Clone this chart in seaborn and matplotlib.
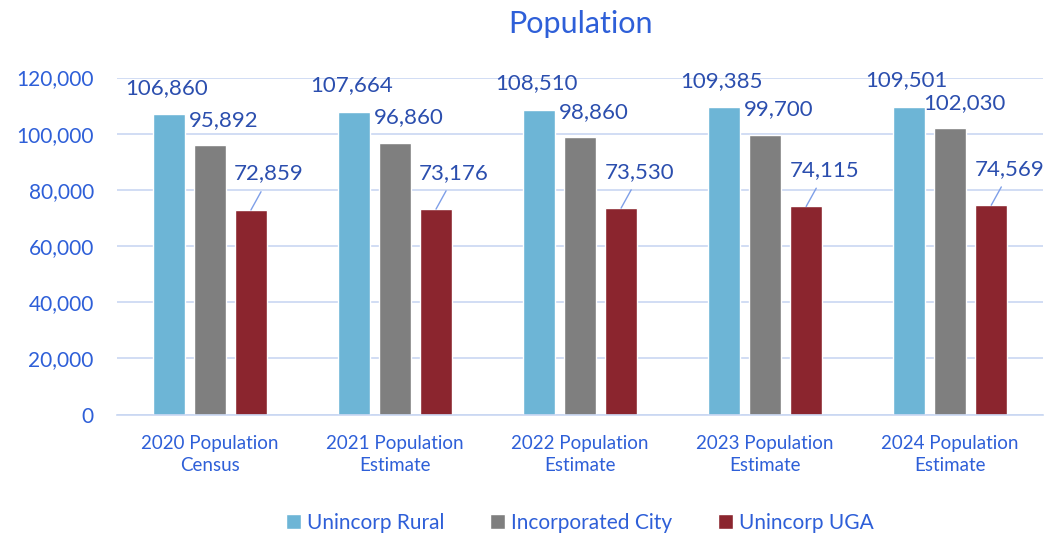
import pandas as pd
import matplotlib.pyplot as plt
import seaborn as sns
from matplotlib.ticker import FuncFormatter

categories = ["2020 Population\nCensus", "2021 Population\nEstimate", "2022 Population\nEstimate",
              "2023 Population\nEstimate", "2024 Population\nEstimate"]
series = ["Unincorp Rural", "Incorporated City", "Unincorp UGA"]
rural = [106860, 107664, 108510, 109385, 109501]
city = [95892, 96860, 98860, 99700, 102030]
uga = [72859, 73176, 73530, 74115, 74569]

colors = ["#6DB5D6", "#7F7F7F", "#8B252E"]
text_blue = "#2E5FD8"
label_blue = "#2B4EAE"
grid_blue = "#C9D7F2"

df = pd.DataFrame({
    "category": categories * 3,
    "series": [series[0]] * 5 + [series[1]] * 5 + [series[2]] * 5,
    "value": rural + city + uga,
})

sns.set_style("white")
plt.rcParams['font.family'] = ['Lato', 'DejaVu Sans']

fig, ax = plt.subplots(figsize=(10.48, 5.35), dpi=100)
fig.subplots_adjust(left=0.112, right=0.995, top=0.855, bottom=0.225)

sns.barplot(data=df, x="category", y="value", hue="series", palette=colors,
            width=0.665, gap=0.22, saturation=1, ax=ax, legend=True)

ax.set_ylim(0, 120000)
ax.set_yticks(range(0, 120001, 20000))
ax.yaxis.set_major_formatter(FuncFormatter(lambda v, p: f"{int(v):,}"))
ax.grid(axis="y", color=grid_blue, linewidth=1.2)
ax.set_axisbelow(True)
for s in ["top", "right", "left"]:
    ax.spines[s].set_visible(False)
ax.spines["bottom"].set_color(grid_blue)
ax.spines["bottom"].set_linewidth(1.2)
ax.tick_params(axis="y", colors=text_blue, labelsize=15, length=0, pad=17)
ax.tick_params(axis="x", colors=text_blue, labelsize=13.5, length=0, pad=15)
for t in ax.get_xticklabels():
    t.set_linespacing(1.35)
ax.set_xlabel("")
ax.set_ylabel("")
ax.set_title("Population", color=text_blue, fontsize=22, pad=32)

# data labels
for i, (cont, vals) in enumerate(zip(ax.containers, [rural, city, uga])):
    for bar, v in zip(cont, vals):
        x = bar.get_x() + bar.get_width() / 2
        y = bar.get_height()
        if i == 2:
            # UGA labels sit up and right, joined to the bar by a leader line
            ax.annotate(f"{v:,}", xy=(x, y), xytext=(13, 19), textcoords="offset points",
                        ha="center", va="bottom", color=label_blue, fontsize=16,
                        arrowprops=dict(arrowstyle="-", color="#7E9FE8", lw=1.0,
                                        shrinkA=4, shrinkB=0, relpos=(0.45, 0)))
        elif i == 1:
            ax.annotate(f"{v:,}", xy=(x, y), xytext=(10, 11), textcoords="offset points",
                        ha="center", va="bottom", color=label_blue, fontsize=16)
        else:
            ax.annotate(f"{v:,}", xy=(x, y), xytext=(-2, 12), textcoords="offset points",
                        ha="center", va="bottom", color=label_blue, fontsize=16)

leg = ax.legend(loc="upper center", bbox_to_anchor=(0.5, -0.235), ncol=3, frameon=False,
                fontsize=15, handlelength=0.7, handleheight=0.7, handletextpad=0.3,
                columnspacing=2.2)
for t in leg.get_texts():
    t.set_color(text_blue)

fig.savefig("out.png", dpi=100)
